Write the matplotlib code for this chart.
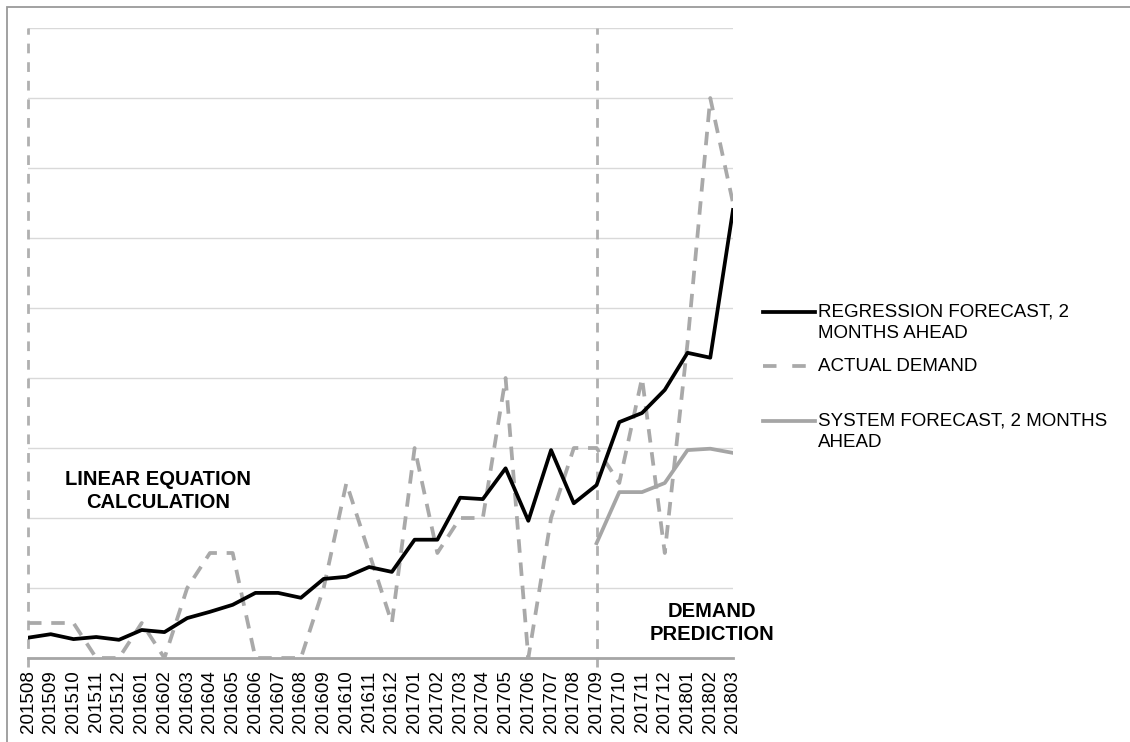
import matplotlib
matplotlib.use("Agg")
import matplotlib.pyplot as plt
import numpy as np
from matplotlib.lines import Line2D
from matplotlib.patches import Rectangle

plt.rcParams['font.family'] = ['Liberation Sans', 'DejaVu Sans']

months = ["201508", "201509", "201510", "201511", "201512", "201601", "201602", "201603",
          "201604", "201605", "201606", "201607", "201608", "201609", "201610", "201611",
          "201612", "201701", "201702", "201703", "201704", "201705", "201706", "201707",
          "201708", "201709", "201710", "201711", "201712", "201801", "201802", "201803"]

regression = [0.58, 0.68, 0.54, 0.60, 0.52, 0.80, 0.74, 1.14, 1.32, 1.52, 1.86, 1.86,
              1.72, 2.26, 2.32, 2.60, 2.46, 3.38, 3.38, 4.58, 4.54, 5.42, 3.92, 5.94,
              4.42, 4.94, 6.74, 7.00, 7.66, 8.72, 8.58, 12.8]

actual = [1, 1, 1, 0, 0, 1, 0, 2, 3, 3, 0, 0, 0, 2, 5, 3, 1, 6, 3, 4, 4, 8, 0, 4,
          6, 6, 5, 8, 3, 9, 16, 13]

system = [np.nan] * 25 + [3.28, 4.74, 4.74, 5.00, 5.94, 5.98, 5.86]

labels = ["REGRESSION FORECAST, 2\nMONTHS AHEAD", "ACTUAL DEMAND",
          "SYSTEM FORECAST, 2 MONTHS\nAHEAD"]

W, H = 1130, 742
fig = plt.figure(figsize=(W / 100, H / 100), dpi=100)
ax = fig.add_axes([28 / W, 1 - 658 / H, (733 - 28) / W, (658 - 28) / H])

x = np.arange(len(months))
ax.set_xlim(0, len(months) - 1)
ax.set_ylim(0, 18)
ax.set_yticks(np.arange(0, 19, 2))
ax.grid(axis='y', color='#d9d9d9', lw=1.0)
ax.set_axisbelow(True)
for s in ['top', 'right', 'left']:
    ax.spines[s].set_visible(False)
ax.spines['bottom'].set_color('#a6a6a6')
ax.spines['bottom'].set_linewidth(2.0)
ax.tick_params(axis='y', left=False, labelleft=False)
ax.set_xticks(x)
ax.set_xticklabels(months, rotation=90, fontsize=13.5, color='black')
ax.tick_params(axis='x', length=0, pad=9)

gray = '#a9a9a9'
# vertical dashed separators
for xv in [0, 25]:
    ax.plot([xv, xv], [-0.25, 18], color='#b0b0b0', lw=2.0,
            linestyle=(0, (3.5, 3.2)), clip_on=False, zorder=2)

ax.plot(x, actual, color=gray, lw=2.7, linestyle=(0, (3.6, 2.6)), zorder=3,
        dash_capstyle='butt')
ax.plot(x, system, color='#a5a5a5', lw=2.7, zorder=4)
ax.plot(x, regression, color='black', lw=2.7, zorder=5)

# annotations
fig.text(158 / W, 1 - 491 / H, "LINEAR EQUATION\nCALCULATION", ha='center', va='center',
         fontsize=14.5, fontweight='bold', linespacing=1.3)
fig.text(712 / W, 1 - 623 / H, "DEMAND\nPREDICTION", ha='center', va='center',
         fontsize=14.5, fontweight='bold', linespacing=1.3)

# legend (manual)
leg_x0, leg_x1, tx = 763 / W, 815 / W, 818 / W
specs = [
    (312, 323, dict(color='black', lw=2.7)),
    (366, 366, dict(color=gray, lw=2.7, linestyle=(0, (3.6, 4.2)))),
    (421, 432, dict(color='#a5a5a5', lw=2.7)),
]
for (ly, ty, kw), lab in zip(specs, labels):
    fig.add_artist(Line2D([leg_x0, leg_x1], [1 - ly / H, 1 - ly / H], **kw))
    fig.text(tx, 1 - ty / H, lab, ha='left', va='center', fontsize=13.5,
             linespacing=1.38, color='black')

# outer border (left and top visible)
fig.add_artist(Rectangle((7 / W, -0.1), 1.2, 1 - 7 / H + 0.1, fill=False,
                         edgecolor='#9a9a9a', lw=1.3, transform=fig.transFigure))

fig.savefig("out.png", dpi=100)
